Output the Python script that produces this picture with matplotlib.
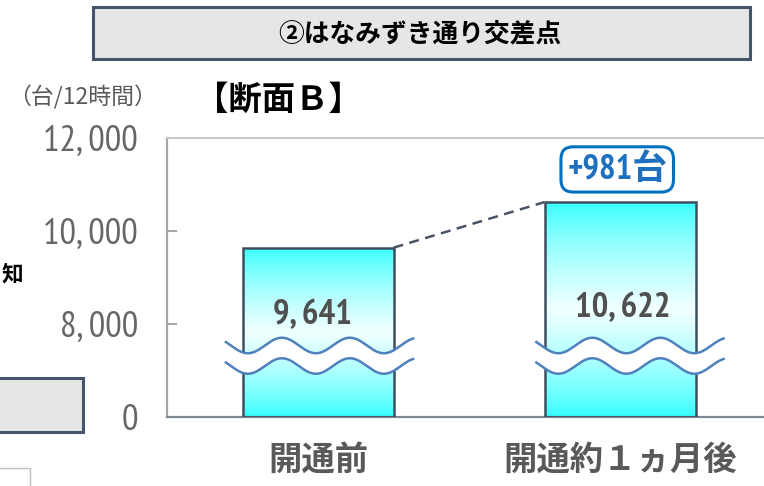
import numpy as np
import matplotlib
matplotlib.use("Agg")
import matplotlib.pyplot as plt
from matplotlib import transforms
from matplotlib.patches import Rectangle

# ---- data ----
categories = ["開通前", "開通約１ヵ月後"]
volumes = [9641, 10622]
ytick_values = [0, 8000, 10000, 12000]
ytick_labels = ["0", "8, 000", "10, 000", "12, 000"]
title = "②はなみずき通り交差点"
section = "【断面Ｂ】"
unit = "（台/12時間）"

# ---- style ----
W, H = 764, 486
CJK = "Noto Sans CJK JP"
NARROW = ["PT Sans Narrow", CJK]
CYAN = np.array([0.17, 1.0, 1.0])
WHITE = np.array([0.95, 1.0, 1.0])
EDGE = "#3F4E5E"
WAVE = "#4F81BD"
BOXEDGE = "#44546A"
BAR_W = 0.5
BREAK = 8000  # values below this are compressed into the lowest tick band


def fwd(v):
    v = np.asarray(v, dtype=float)
    return np.where(v >= BREAK, v, 6000 + v * 0.25)


def inv(u):
    u = np.asarray(u, dtype=float)
    return np.where(u >= BREAK, u, (u - 6000) * 4.0)


plt.rcParams["font.family"] = [CJK, "DejaVu Sans"]

fig = plt.figure(figsize=(W / 100, H / 100), dpi=100)
fig.patch.set_facecolor("white")


def fx(px):
    return px / W


def fy(py):
    return 1 - py / H


# header box
fig.add_artist(Rectangle((fx(93), fy(59)), fx(750 - 93), (59 - 7) / H,
                         transform=fig.transFigure, facecolor="#E6E6E6",
                         edgecolor=BOXEDGE, linewidth=2.2))
fig.text(fx(420), fy(34), title, ha="center", va="center", fontsize=18.5,
         fontweight="bold", color="black")

# neighbouring panel fragments on the left edge
fig.add_artist(Rectangle((fx(-20), fy(432)), fx(103), (432 - 378) / H,
                         transform=fig.transFigure, facecolor="#E6E6E6",
                         edgecolor=BOXEDGE, linewidth=2.2))
fig.add_artist(Rectangle((fx(-20), fy(500)), fx(50), (500 - 468) / H,
                         transform=fig.transFigure, facecolor="white",
                         edgecolor="#BFBFBF", linewidth=1.0))
fig.text(fx(2), fy(274), "知", ha="left", va="center", fontsize=15.5,
         fontweight="bold", color="black")

# section title and unit
fig.text(fx(278), fy(100), section, ha="center", va="center", fontsize=24,
         fontweight="bold", color="black")
fig.text(fx(82), fy(97), unit, ha="center", va="center", fontsize=16.5,
         color="#595959")

# ---- axes ----
ax = fig.add_axes([fx(167), fy(417), fx(771 - 167), (417 - 138) / H])
ax.set_yscale("function", functions=(fwd, inv))
ax.set_xlim(-0.5, 1.5)
ax.set_ylim(0, 12000)
ax.patch.set_alpha(0)

ax.spines["right"].set_visible(False)
ax.spines["left"].set_color("#A6A6A6")
ax.spines["left"].set_linewidth(1.6)
ax.spines["top"].set_color("#C8C8C8")
ax.spines["top"].set_linewidth(1.4)
ax.spines["bottom"].set_color("#7F8792")
ax.spines["bottom"].set_linewidth(1.6)

ax.set_yticks(ytick_values)
ax.set_yticklabels(ytick_labels)
ax.yaxis.set_minor_locator(matplotlib.ticker.NullLocator())
ax.tick_params(axis="y", direction="in", length=7, width=1.4, color="#A6A6A6",
               pad=21, labelsize=26.5, labelcolor="#666666")
for t in ax.get_yticklabels():
    t.set_fontfamily(NARROW)

x = np.arange(len(categories))
ax.set_xticks(x)
ax.set_xticklabels(categories)
ax.tick_params(axis="x", length=0, pad=19, labelsize=24, labelcolor="#595959")
for t in ax.get_xticklabels():
    t.set_fontweight("bold")

bars = ax.bar(x, volumes, width=BAR_W, facecolor="none", edgecolor=EDGE,
              linewidth=1.8, zorder=3)

# gradient fill: cyan at both ends, nearly white across the middle
blend = transforms.blended_transform_factory(ax.transData, ax.transAxes)
to_axes = ax.transScale + ax.transLimits
t = np.linspace(0, 1, 256)
w = np.clip(1 - np.abs(2 * t - 1), 0, 1) ** 0.7
grad = CYAN[None, :] + (WHITE - CYAN)[None, :] * w[:, None]
grad = grad[:, None, :]
for xi, v, b in zip(x, volumes, bars):
    top = to_axes.transform((0, v))[1]
    im = ax.imshow(grad, extent=(xi - BAR_W / 2, xi + BAR_W / 2, 0, top),
                   origin="lower", aspect="auto", transform=blend,
                   interpolation="bilinear", zorder=2)
    im.set_clip_path(b)

# axis-break waves across each bar (axes-fraction heights)
wave_shift = [0.005, 0.033]
half = 0.31
amp = 7.75 / 279
top_c, bot_c = 0.2563, 0.1828
for xi, sh in zip(x, wave_shift):
    xs = np.linspace(xi + sh - half, xi + sh + half, 300)
    s = (xs - xs[0]) * 302
    c = np.cos(2 * np.pi * (s + 12) / 68)
    y_top = top_c + amp * c
    y_bot = bot_c + amp * c
    ax.fill_between(xs, y_bot, y_top, transform=blend, color="white",
                    linewidth=0, zorder=4)
    ax.plot(xs, y_top, transform=blend, color=WAVE, lw=1.8, zorder=5)
    ax.plot(xs, y_bot, transform=blend, color=WAVE, lw=1.8, zorder=5)

# value labels
label_y = [0.366, 0.391]
for xi, v, ly in zip(x, volumes, label_y):
    ax.text(xi - 0.02 + 0.03 * xi, ly, f"{v:,}".replace(",", ", "),
            transform=blend, ha="center", va="center", fontsize=25,
            fontweight="bold", color="#505050", family=NARROW, zorder=6)

# connector between bar tops
ax.plot([x[0] + BAR_W / 2, x[1] - BAR_W / 2], [volumes[0], volumes[1]],
        color="#4A5468", lw=1.8, ls=(0, (4, 2.6)), zorder=3)

# increase callout
diff = volumes[1] - volumes[0]
ax.annotate(f"+{diff:,}台", xy=(x[1], volumes[1]), xytext=(-2, 23.5),
            textcoords="offset points", ha="center", va="center",
            fontsize=25, fontweight="bold", color="#1F6FBF", family=NARROW,
            bbox=dict(boxstyle="round,pad=0.18,rounding_size=0.35",
                      facecolor="white", edgecolor="#0070C0", linewidth=2.2),
            zorder=7, annotation_clip=False)

ax.set_xlim(-0.5, 1.5)
ax.set_ylim(0, 12000)

fig.savefig("out.png", dpi=100)
